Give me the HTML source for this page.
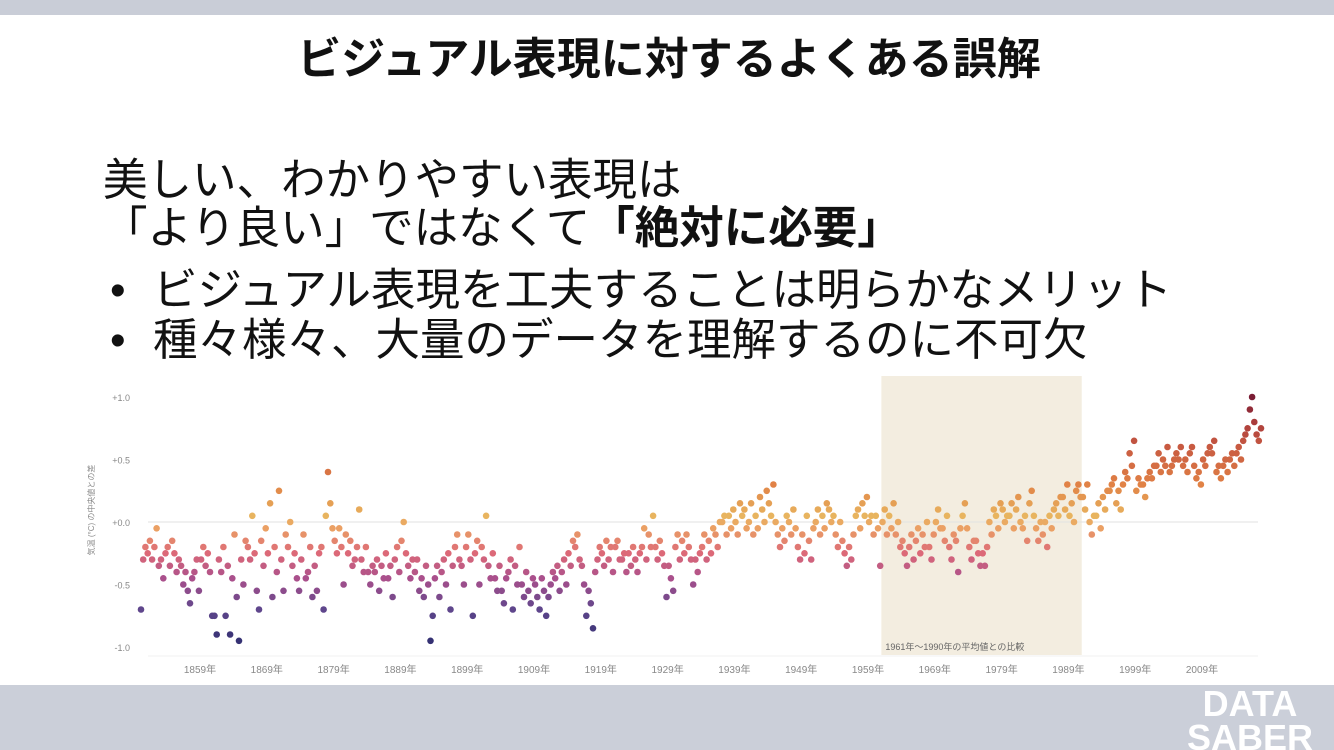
<!DOCTYPE html>
<html><head><meta charset="utf-8">
<style>
html,body{margin:0;padding:0;background:#fff;}
svg{display:block;}
.jp{font-family:"Liberation Sans","Noto Sans CJK JP",sans-serif;}
</style></head>
<body>
<svg id="slide" width="1334" height="750" viewBox="0 0 1334 750" xmlns="http://www.w3.org/2000/svg" class="jp">
<rect x="0" y="0" width="1334" height="750" fill="#ffffff"/>
<rect x="0" y="0" width="1334" height="15" fill="#c9cdd7"/>
<rect x="0" y="685" width="1334" height="65" fill="#cbcfd9"/>
<text x="669" y="74" text-anchor="middle" font-size="44" font-weight="bold" fill="#111">ビジュアル表現に対するよくある誤解</text>
<text x="103" y="195" font-size="44.5" fill="#111">美しい、わかりやすい表現は</text>
<text x="103" y="243" font-size="44.5" fill="#111">「より良い」ではなくて<tspan font-weight="bold">「絶対に必要」</tspan></text>
<text x="110" y="305" font-size="44.5" fill="#111">•</text>
<text x="153" y="305" font-size="44.5" fill="#111">ビジュアル表現を工夫することは明らかなメリット</text>
<text x="110" y="355" font-size="44.5" fill="#111">•</text>
<text x="153" y="355" font-size="44.5" fill="#111">種々様々、大量のデータを理解するのに不可欠</text>
<g id="chart"></g>
<text x="1250" y="716" text-anchor="middle" font-size="36" font-weight="bold" fill="#ffffff" font-family="Liberation Sans, sans-serif">DATA</text>
<text x="1250" y="750" text-anchor="middle" font-size="36" font-weight="bold" fill="#ffffff" font-family="Liberation Sans, sans-serif">SABER</text>
</svg>
<script>
const startYear = 1850;
const perYear = 3;
const anomalies = [
-70,-30,-20, -25,-15,-30, -20,-5,-35, -30,-45,-25, -20,-35,-15, -25,-40,-30, -35,-50,-40, -55,-65,-45, -40,-30,-55, -30,-20,-35,
-25,-40,-75, -75,-90,-30, -40,-20,-75, -35,-90,-45, -10,-60,-95, -30,-50,-15, -20,-30,5, -25,-55,-70, -15,-35,-5, -25,15,-60,
-20,-40,25, -30,-55,-10, -20,0,-35, -25,-45,-55, -30,-10,-45, -40,-20,-60, -35,-55,-25, -20,-70,5, 40,15,-5, -15,-25,-5,
-20,-50,-10, -25,-15,-35, -30,-20,10, -30,-40,-20, -40,-50,-35, -40,-30,-55, -35,-45,-25, -45,-35,-60, -30,-20,-40, -15,0,-25,
-35,-45,-30, -40,-30,-55, -45,-60,-35, -50,-95,-75, -45,-35,-60, -40,-30,-50, -25,-70,-35, -20,-10,-30, -35,-50,-20, -10,-30,-75,
-25,-15,-50, -20,-30,5, -35,-45,-25, -45,-55,-35, -55,-65,-45, -40,-30,-70, -35,-50,-20, -50,-60,-40, -55,-65,-45, -50,-60,-70,
-45,-55,-75, -60,-50,-40, -45,-35,-55, -40,-30,-50, -25,-35,-15, -20,-10,-30, -35,-50,-75, -55,-65,-85, -40,-30,-20, -25,-35,-15,
-30,-20,-40, -20,-15,-30, -30,-25,-40, -25,-35,-20, -30,-40,-25, -20,-5,-30, -10,-20,5, -20,-30,-15, -25,-35,-60, -35,-45,-55,
-20,-10,-30, -15,-25,-10, -20,-30,-50, -30,-40,-25, -20,-10,-30, -15,-25,-5, -10,-20,0, 0,5,-10, 5,-5,10, 0,-10,15,
5,10,-5, 0,15,-10, 5,-5,20, 10,0,25, 15,5,30, 0,-10,-20, -5,-15,5, 0,-10,10, -5,-20,-30, -10,-25,5,
-15,-30,-5, 0,10,-10, 5,-5,15, 10,0,5, -10,-20,0, -15,-25,-35, -20,-30,-10, 5,10,-5, 15,5,20, 0,5,-10,
5,-5,-35, 0,10,-10, 5,-5,15, -10,0,-20, -15,-25,-35, -20,-10,-30, -15,-5,-25, -10,-20,0, -20,-30,-10, 0,10,-5,
-5,-15,5, -20,-30,-10, -15,-40,-5, 5,15,-5, -20,-30,-15, -15,-25,-35, -25,-35,-20, 0,-10,10, 5,-5,15, 10,0,5,
5,15,-5, 10,20,0, -5,5,-15, 15,25,5, -5,-15,0, -10,0,-20, 5,-5,10, 15,5,20, 20,10,30, 5,15,0,
25,30,20, 20,10,30, 0,-10,5, 5,15,-5, 20,10,25, 25,30,35, 15,25,10, 30,40,35, 55,45,65, 25,35,30,
30,20,35, 40,35,45, 45,55,40, 50,45,60, 40,45,50, 55,50,60, 45,50,40, 55,60,45, 35,40,30, 50,45,55,
60,55,65, 40,45,35, 45,50,40, 50,55,45, 55,60,50, 65,70,75, 90,100,80, 70,65,75
];
const yTicks = [1.0, 0.5, 0.0, -0.5, -1.0];
const yTickLabels = ["+1.0","+0.5","+0.0","-0.5","-1.0"];
const xTickYears = [1859,1869,1879,1889,1899,1909,1919,1929,1939,1949,1959,1969,1979,1989,1999,2009];
const baselineRange = [1961, 1991];

const NS = "http://www.w3.org/2000/svg";
const g = document.getElementById('chart');
const X = yr => 200 + (yr - 1859) * 6.68;
const Y = v => 522 - v * 125;
function mk(tag, attrs){const e=document.createElementNS(NS,tag);for(const k in attrs)e.setAttribute(k,attrs[k]);g.appendChild(e);return e;}

const shade = mk('rect',{x:X(baselineRange[0]),y:376,width:X(baselineRange[1])-X(baselineRange[0]),height:279,fill:'#f3ede0'});


const bl = mk('text',{x:X(baselineRange[0])+4,y:650,'font-size':9,fill:'#666'});
bl.textContent = baselineRange[0] + "年～" + (baselineRange[1]-1) + "年の平均値との比較";



const zl = mk('line',{x1:148,x2:1258,y1:Y(0),y2:Y(0),stroke:'#e2e2e2','stroke-width':1});


const ax = mk('line',{x1:148,x2:1258,y1:656,y2:656,stroke:'#f0f0f0','stroke-width':1});



yTicks.forEach((v,i)=>{
  const t = mk('text',{x:130,y:Y(v)+4,'text-anchor':'end','font-size':9,fill:'#888'});
  t.textContent = yTickLabels[i];
  
  
});
xTickYears.forEach(yr=>{
  const t = mk('text',{x:X(yr),y:673,'text-anchor':'middle','font-size':10,fill:'#888'});
  t.textContent = yr + "年";
  
  
});
const yt = mk('text',{x:0,y:0,'text-anchor':'middle','font-size':8,fill:'#888',transform:'translate(94,510) rotate(-90)'});
yt.textContent = "気温 (°C) の中央値との差";



const stops = [[-1.0,[45,45,110]],[-0.7,[95,70,140]],[-0.45,[170,80,140]],[-0.25,[220,105,120]],[-0.05,[235,160,100]],[0.05,[232,180,95]],[0.3,[225,130,70]],[0.6,[200,90,65]],[0.8,[170,60,60]],[1.05,[110,20,50]]];
function color(v){
  if(v<=stops[0][0]) return 'rgb('+stops[0][1]+')';
  for(let i=1;i<stops.length;i++){
    if(v<=stops[i][0]){
      const a=stops[i-1],b=stops[i],t=(v-a[0])/(b[0]-a[0]);
      return 'rgb('+a[1].map((c,j)=>Math.round(c+(b[1][j]-c)*t)).join(',')+')';
    }
  }
  return 'rgb('+stops[stops.length-1][1]+')';
}
anomalies.forEach((a,i)=>{
  const yr = startYear + Math.floor(i/perYear) + ((i%perYear)+0.5)/perYear;
  const v = a/100;
  const c = mk('circle',{cx:X(yr).toFixed(1),cy:Y(v).toFixed(1),r:3.3,fill:color(v)});
  
  
});
</script>
</body></html>
